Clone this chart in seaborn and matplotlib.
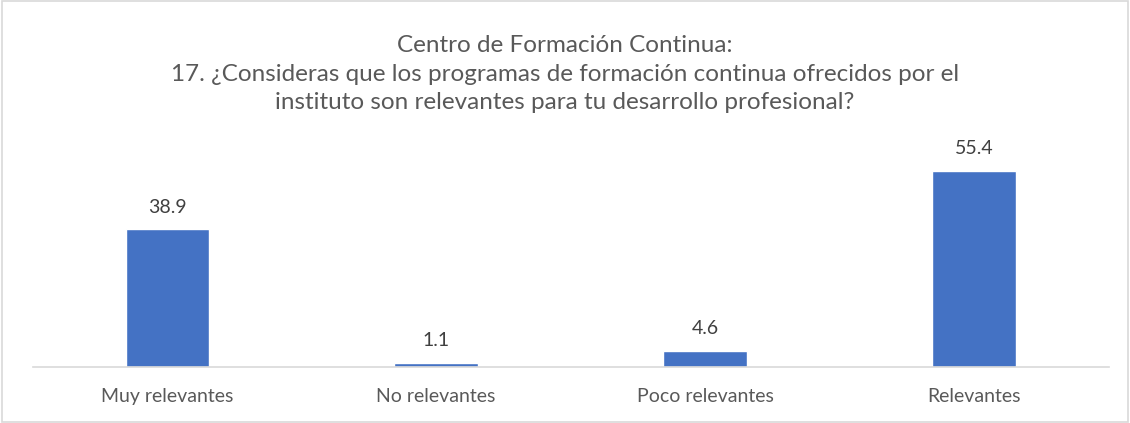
import matplotlib
matplotlib.use('Agg')
import matplotlib.pyplot as plt
import seaborn as sns
import pandas as pd

# datos del gráfico
categorias = ['Muy relevantes', 'No relevantes', 'Poco relevantes', 'Relevantes']
porcentajes = [38.9, 1.1, 4.6, 55.4]
titulo = ('Centro de Formación Continua:\n'
          '17. ¿Consideras que los programas de formación continua ofrecidos por el\n'
          'instituto son relevantes para tu desarrollo profesional?')

sns.set_style('white')
plt.rcParams['font.family'] = ['Lato', 'DejaVu Sans']

df = pd.DataFrame({'categoria': categorias, 'valor': porcentajes})

fig = plt.figure(figsize=(11.3, 4.23), dpi=100)
ax = fig.add_axes([0.029, 0.132, 0.952, 0.502])

sns.barplot(data=df, x='categoria', y='valor', color='#4472C4', width=0.31,
            saturation=1, ax=ax)

for i, v in enumerate(porcentajes):
    ax.annotate(f'{v:.1f}', (i, v), xytext=(0, 10), textcoords='offset points',
                ha='center', va='bottom', fontsize=14, color='#404040')

ax.set_ylim(0, 60)
ax.set_xlim(-0.5, 3.5)
ax.set_yticks([])
ax.set_xlabel('')
ax.set_ylabel('')
for s in ['top', 'right', 'left']:
    ax.spines[s].set_visible(False)
ax.spines['bottom'].set_color('#D9D9D9')
ax.spines['bottom'].set_linewidth(1.2)
ax.tick_params(axis='x', length=0, pad=15, labelsize=14, labelcolor='#595959')

fig.text(0.5, 0.825, titulo, ha='center', va='center', fontsize=17.5,
         color='#595959', linespacing=1.45)

fig.patches.append(plt.Rectangle((0.002, 0.003), 0.996, 0.994, transform=fig.transFigure,
                                 fill=False, edgecolor='#D9D9D9', linewidth=1.2))

fig.savefig('out.png', dpi=100, facecolor='white')
